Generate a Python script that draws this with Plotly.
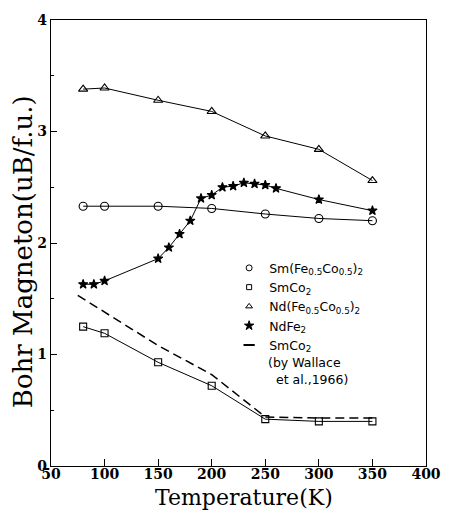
import plotly.graph_objects as go

# ---- data ----
temp_main = [80, 100, 150, 200, 250, 300, 350]
sm_fe_co = [2.33, 2.33, 2.33, 2.31, 2.26, 2.22, 2.20]
sm_co2 = [1.25, 1.19, 0.93, 0.72, 0.42, 0.40, 0.40]
nd_fe_co = [3.38, 3.39, 3.28, 3.18, 2.96, 2.84, 2.56]

temp_ndfe2 = [80, 90, 100, 150, 160, 170, 180, 190, 200, 210, 220, 230, 240, 250, 260, 300, 350]
nd_fe2 = [1.63, 1.63, 1.66, 1.86, 1.96, 2.08, 2.20, 2.40, 2.43, 2.50, 2.51, 2.54, 2.53, 2.52, 2.49, 2.39, 2.29]

temp_wallace = [75, 100, 150, 200, 250, 300, 350]
sm_co2_wallace = [1.53, 1.38, 1.08, 0.82, 0.44, 0.43, 0.43]

x_ticks = [50, 100, 150, 200, 250, 300, 350, 400]
y_ticks = [0, 1, 2, 3, 4]

names = [
    "Sm(Fe<sub>0.5</sub>Co<sub>0.5</sub>)<sub>2</sub>",
    "SmCo<sub>2</sub>",
    "Nd(Fe<sub>0.5</sub>Co<sub>0.5</sub>)<sub>2</sub>",
    "NdFe<sub>2</sub>",
    "SmCo<sub>2</sub>",
]
wallace_note = ["(by Wallace", "et al.,1966)"]

BLACK = "#000000"
LEG_FONT = dict(family="DejaVu Sans", size=12.5, color=BLACK)
fig = go.Figure()

series = [
    (temp_main, sm_fe_co, "circle-open", 8),
    (temp_main, sm_co2, "square-open", 7),
    (temp_main, nd_fe_co, "triangle-up-open", 8),
    (temp_ndfe2, nd_fe2, "star", 7),
]
for xs, ys, sym, sz in series:
    fig.add_trace(go.Scatter(
        x=xs, y=ys, mode="lines+markers", showlegend=False,
        line=dict(color=BLACK, width=1),
        marker=dict(symbol=sym, size=sz, color=BLACK, line=dict(color=BLACK, width=1.1)),
    ))
fig.add_trace(go.Scatter(
    x=temp_wallace, y=sm_co2_wallace, mode="lines", showlegend=False,
    line=dict(color=BLACK, width=1.5, dash="9px,5px"),
))

# legend-only entries (small glyphs as in the reference)
legend_syms = ["circle-open", "square-open", "triangle-up-open", "star", "line-ew"]
legend_sizes = [6, 5, 6, 7, 8]
for name, sym, sz in zip(names, legend_syms, legend_sizes):
    fig.add_trace(go.Scatter(
        x=[None], y=[None], mode="markers", name=name,
        marker=dict(symbol=sym, size=sz, color=BLACK,
                    line=dict(color=BLACK, width=2 if sym == "line-ew" else 1)),
    ))

serif = "DejaVu Serif"
TICK_FONT = dict(family=serif, size=14, color=BLACK, weight="bold")
fig.update_layout(
    width=453, height=511,
    margin=dict(l=51, r=15, t=15, b=45),
    paper_bgcolor="white", plot_bgcolor="white",
    showlegend=True,
    legend=dict(
        x=0.475, y=0.477, xanchor="left", yanchor="top",
        font=LEG_FONT,
        bgcolor="rgba(0,0,0,0)", borderwidth=0,
        itemwidth=30, tracegroupgap=0,
    ),
    xaxis=dict(
        range=[50, 400], tickvals=x_ticks, ticktext=[str(v) for v in x_ticks],
        ticks="inside", ticklen=7, tickwidth=1, tickcolor=BLACK,
        showline=True, linecolor=BLACK, linewidth=1.3, mirror=True,
        showgrid=False, zeroline=False, ticklabelstandoff=-5,
        tickfont=TICK_FONT,
    ),
    yaxis=dict(
        range=[0, 4], tickvals=y_ticks, ticktext=[str(v) for v in y_ticks],
        ticks="inside", ticklen=6, tickwidth=1, tickcolor=BLACK,
        minor=dict(dtick=0.5, ticks="inside", ticklen=3, tickcolor=BLACK, showgrid=False),
        showline=True, linecolor=BLACK, linewidth=1.3, mirror=True,
        showgrid=False, zeroline=False,
        tickfont=TICK_FONT,
    ),
    annotations=[
        dict(text="Temperature(K)", xref="paper", yref="paper", x=0.515, y=-0.037,
             xanchor="center", yanchor="top", showarrow=False,
             font=dict(family=serif, size=22, color=BLACK)),
        dict(text="Bohr Magneton(uB/f.u.)", xref="paper", yref="paper", x=-0.074, y=0.48,
             xanchor="center", yanchor="middle", textangle=-90, showarrow=False,
             font=dict(family=serif, size=26, color=BLACK)),
        dict(text=wallace_note[0], xref="paper", yref="paper", x=0.572, y=0.2317,
             xanchor="left", yanchor="middle", showarrow=False, font=LEG_FONT),
        dict(text=wallace_note[1], xref="paper", yref="paper", x=0.595, y=0.194,
             xanchor="left", yanchor="middle", showarrow=False, font=LEG_FONT),
    ],
)

fig.write_html("out.html")
